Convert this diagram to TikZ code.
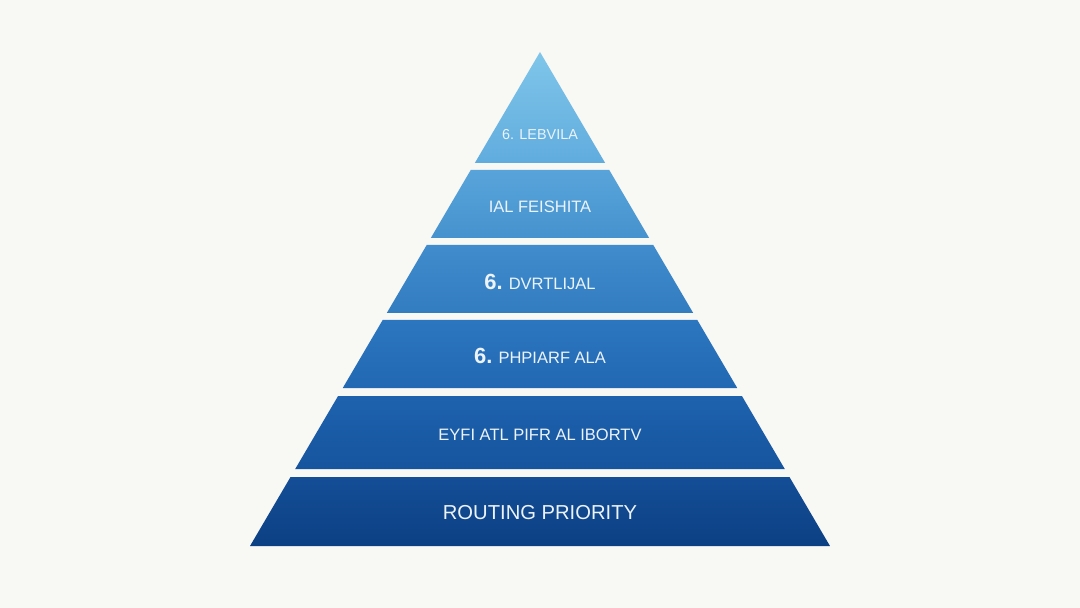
\documentclass[tikz,border=0pt]{standalone}
\usepackage{fontspec}
\setmainfont{Liberation Sans}
\usetikzlibrary{calc}

\definecolor{bgcol}{RGB}{248,248,245}
\definecolor{txtcol}{RGB}{236,243,250}
\definecolor{cA}{RGB}{128,198,234}
\definecolor{cB}{RGB}{96,172,222}
\definecolor{cC}{RGB}{88,164,218}
\definecolor{cD}{RGB}{70,146,206}
\definecolor{cE}{RGB}{64,140,204}
\definecolor{cF}{RGB}{50,124,192}
\definecolor{cG}{RGB}{44,118,192}
\definecolor{cH}{RGB}{34,104,178}
\definecolor{cI}{RGB}{30,98,174}
\definecolor{cJ}{RGB}{22,84,158}
\definecolor{cK}{RGB}{20,78,150}
\definecolor{cL}{RGB}{12,64,132}
\newcommand{\lvlnumfont}{\fontsize{12.5}{14}\selectfont\bfseries}

\begin{document}
\begin{tikzpicture}[x=0.02cm,y=0.02cm]
\def\ax{540}           % apex x
\def\ay{52}            % apex y (pixels from top)
\def\sl{0.587}         % half-width per pixel of height
\tikzset{
  lvltext/.style={text=txtcol, inner sep=0pt, font=\fontsize{9.4}{11}\selectfont},
}

% ---- background ----
\fill[bgcol] (0,0) rectangle (1080,-608);
\useasboundingbox (0,0) rectangle (1080,-608);

% =====================================================================
% Pyramid layers
% =====================================================================
\foreach \yt/\yb/\ct/\cb in {52/163/cA/cB, 170/238/cC/cD, 245/313/cE/cF,
                             320/388/cG/cH, 396/469/cI/cJ, 477/546/cK/cL}{
  \pgfmathsetmacro{\wt}{\sl*(\yt-\ay)}
  \pgfmathsetmacro{\wb}{\sl*(\yb-\ay)}
  \shade[top color=\ct, bottom color=\cb]
    (\ax-\wt,-\yt) -- (\ax+\wt,-\yt) -- (\ax+\wb,-\yb) -- (\ax-\wb,-\yb) -- cycle;
}

% =====================================================================
% Labels
% =====================================================================
\node[lvltext, font=\fontsize{8.2}{10}\selectfont] (l1) at (\ax,-135) {6. LEBVILA};
\node[lvltext] (l2) at (\ax,-207) {IAL FEISHITA};
\node[lvltext] (l3) at (\ax,-282) {{\lvlnumfont 6.} DVRTLIJAL};
\node[lvltext] (l4) at (\ax,-356) {{\lvlnumfont 6.} PHPIARF ALA};
\node[lvltext] (l5) at (\ax,-435) {EYFI ATL PIFR AL IBORTV};
\node[lvltext, font=\fontsize{11.5}{13}\selectfont] (l6) at (\ax,-513) {ROUTING PRIORITY};

\end{tikzpicture}
\end{document}
